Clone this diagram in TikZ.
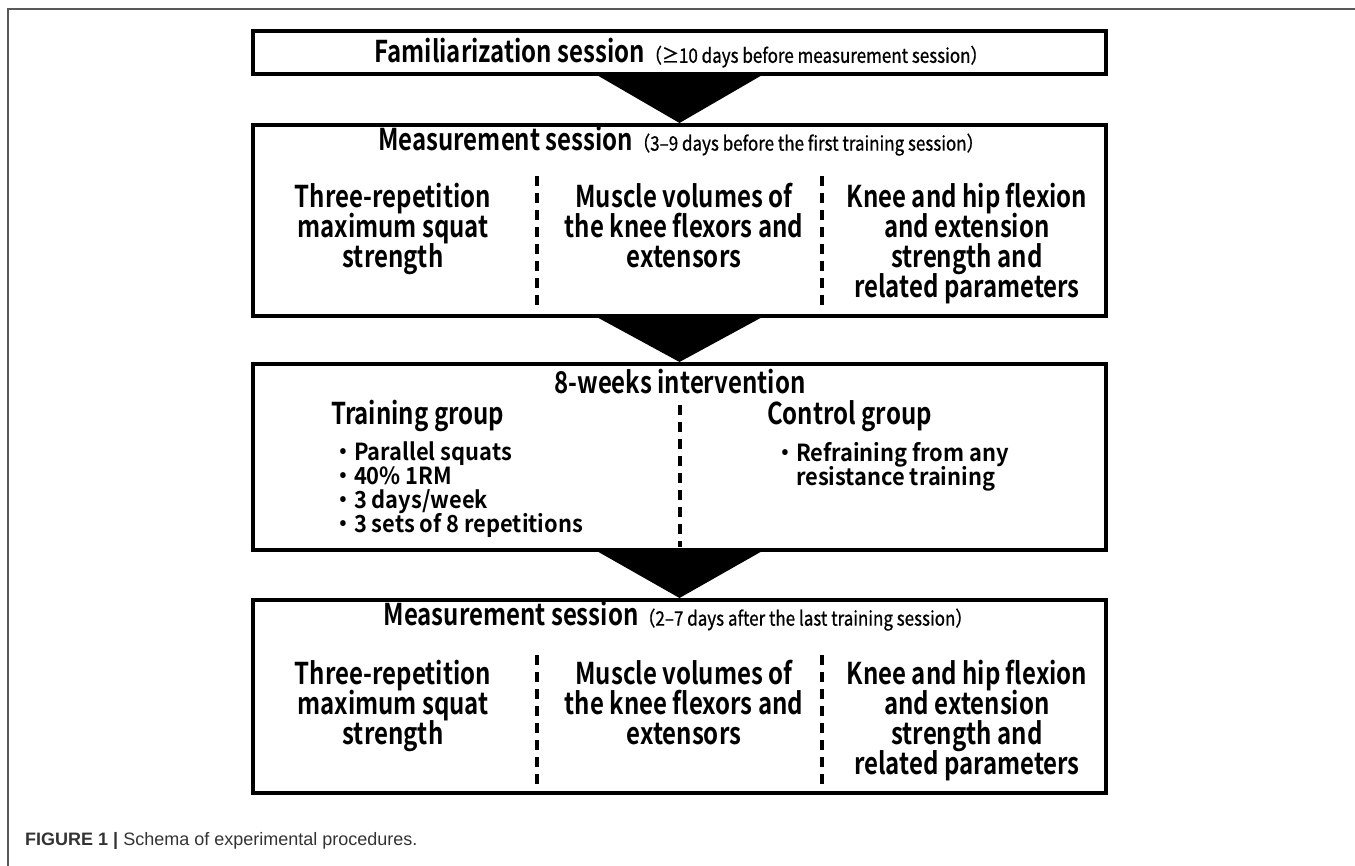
\documentclass[tikz,border=0pt]{standalone}
\usepackage{fontspec}
\setmainfont{Liberation Sans}
\newfontfamily\jpb[FakeStretch=0.8]{Noto Sans CJK JP Bold}
\newfontfamily\jpi[FakeStretch=0.93]{Noto Sans CJK JP Bold}
\newfontfamily\jpr[FakeStretch=0.85,FakeBold=0.8]{Noto Sans CJK JP}
\begin{document}
\begin{tikzpicture}[x=1pt,y=-1pt,
  box/.style={draw=black, line width=4pt, minimum width=853pt, inner sep=0pt},
  sep/.style={line width=3.5pt, dash pattern=on 10pt off 7pt},
  tri/.style={fill=black},
  frameline/.style={draw=black!65, line width=1.5pt},
  title/.style={font=\jpb\fontsize{30}{30}\selectfont, inner sep=0pt},
  col/.style={font=\jpb\fontsize{30}{30}\selectfont, align=center, inner sep=0pt},
  grp/.style={font=\jpb\fontsize{30}{30}\selectfont, inner sep=0pt, anchor=west},
  item/.style={font=\jpi\fontsize{23.5}{24}\selectfont, align=left, inner sep=0pt, anchor=north west},
  captext/.style={font=\fontsize{18}{20}\selectfont, text=black!80, inner sep=0pt, anchor=base west}
]
\lineskiplimit=-40pt\relax
\newcommand{\pr}[1]{{\jpr\fontsize{20}{20}\selectfont #1}}
\useasboundingbox (0,0) rectangle (1355,866);
% outer frame
\coordinate (fa) at (8,866);
\coordinate (fb) at (8,9);
\coordinate (fc) at (1355,9);
\draw[frameline] (fa) -- (fb) -- (fc);

% boxes
\node[box, minimum height=43pt] (b1) at (679.5,52.5) {};
\node[box, minimum height=191pt] (b2) at (679.5,220.5) {};
\node[box, minimum height=186pt] (b3) at (679.5,457) {};
\node[box, minimum height=193pt] (b4) at (679.5,696.5) {};

% triangles
\fill[tri] ([xshift=-81pt]b1.south) -- ([xshift=81pt]b1.south) -- (b2.north) -- cycle;
\fill[tri] ([xshift=-81pt]b2.south) -- ([xshift=81pt]b2.south) -- (b3.north) -- cycle;
\fill[tri] ([xshift=-81pt]b3.south) -- ([xshift=81pt]b3.south) -- (b4.north) -- cycle;

% box 1
\node[title] (t1) at (681,53) {Familiarization session\pr{（≥10 days before measurement session）}};

% box 2
\node[title] (t2) at (681,141) {Measurement session\pr{（3–9 days before the first training session）}};
\node[col] (c21) at (393,229) {Three-repetition\\maximum squat\\strength};
\node[col] (c22) at (684,229) {Muscle volumes of\\the knee flexors and\\extensors\vphantom{g}};
\node[col] (c23) at (967,244) {Knee and hip flexion\\and extension\\strength and\\related parameters};
\coordinate (d21a) at (537,176);
\coordinate (d21b) at (537,308);
\coordinate (d22a) at (822,176);
\coordinate (d22b) at (822,308);
\draw[sep] (d21a) -- (d21b);
\draw[sep] (d22a) -- (d22b);

% box 3
\node[title] (t3) at (680,382) {8-weeks intervention};
\node[grp] (g1) at (331,416) {Training group};
\node[item] (i1) at (332,442) {・Parallel squats\\・40\% 1RM\\・3 days/week\\・3 sets of 8 repetitions};
\node[grp] (g2) at (767,416) {Control group};
\node[item] (i2) at (774,442) {・Refraining from any\\\hphantom{・}resistance training};
\coordinate (d3a) at (680,405);
\coordinate (d3b) at (680,547);
\draw[sep] (d3a) -- (d3b);

% box 4
\node[title] (t4) at (678,616) {Measurement session\pr{（2–7 days after the last training session）}};
\node[col] (c41) at (393,706) {Three-repetition\\maximum squat\\strength};
\node[col] (c42) at (684,706) {Muscle volumes of\\the knee flexors and\\extensors\vphantom{g}};
\node[col] (c43) at (967,721) {Knee and hip flexion\\and extension\\strength and\\related parameters};
\coordinate (d41a) at (537,655);
\coordinate (d41b) at (537,787);
\coordinate (d42a) at (822,655);
\coordinate (d42b) at (822,787);
\draw[sep] (d41a) -- (d41b);
\draw[sep] (d42a) -- (d42b);

% caption
\node[captext] (capt) at (25,845) {\textbf{FIGURE 1 |} Schema of experimental procedures.};
\end{tikzpicture}
\end{document}
